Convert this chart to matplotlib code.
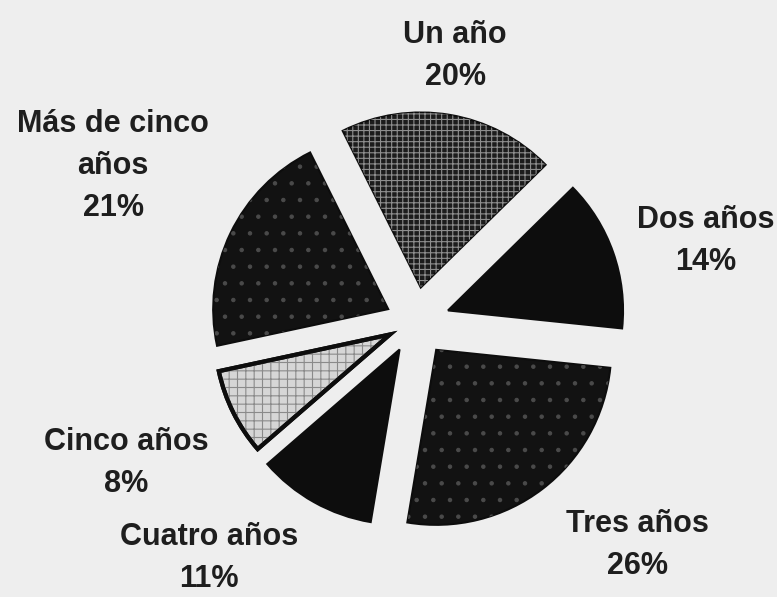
import matplotlib.pyplot as plt

plt.rcParams['font.family'] = ['Liberation Sans', 'DejaVu Sans']

# Datos del grafico
categorias = ["Un año", "Dos años", "Tres años", "Cuatro años", "Cinco años", "Más de cinco\naños"]
porcentajes = [20, 14, 26, 11, 8, 21]

# Estilo de cada porcion (relleno, trama, color de trama)
rellenos = ['#1c1c1c', '#0d0d0d', '#121212', '#0d0d0d', '#d6d6d6', '#121212']
tramas = ['+++', '', '.', '', '++', '.']
color_trama = ['#8e8e8e', '#0d0d0d', '#4a4a4a', '#0d0d0d', '#8a8a8a', '#4a4a4a']
bordes = [1.5, 1.5, 1.5, 1.5, 3.0, 1.5]
separacion = [0.2, 0.2, 0.2, 0.18, 0.16, 0.17]

# Posicion de las etiquetas (x centro, linea base de la primera linea) en pixeles
pos_etiquetas = [(455, 43), (706, 228), (637, 532), (209, 545), (126, 450), (113, 132)]

fig = plt.figure(figsize=(7.77, 5.97), dpi=100, facecolor='#eeeeee')
ax = fig.add_axes([0, 0, 1, 1])
ax.set_facecolor('#eeeeee')

centro = (415, 597 - 322)
radio = 175
desplaz = [s * radio for s in separacion]

wedges, _ = ax.pie(porcentajes, startangle=116.5, counterclock=False,
                   explode=desplaz, radius=radio, center=centro,
                   colors=rellenos,
                   wedgeprops=dict(edgecolor='#0d0d0d', linewidth=1.5))
for w, lw in zip(wedges, bordes):
    w.set_linewidth(lw)

# Capa de tramas encima
plt.rcParams['hatch.linewidth'] = 0.8
capas, _ = ax.pie(porcentajes, startangle=116.5, counterclock=False,
                  explode=desplaz, radius=radio, center=centro,
                  colors=['none'] * len(porcentajes),
                  wedgeprops=dict(linewidth=0))
for w, h, c in zip(capas, tramas, color_trama):
    w.set_hatch(h)
    w.set_edgecolor(c)
    w.set_linewidth(0)

# Borde grueso otra vez para la porcion clara
w5, _ = ax.pie(porcentajes, startangle=116.5, counterclock=False,
               explode=desplaz, radius=radio, center=centro,
               colors=['none'] * len(porcentajes),
               wedgeprops=dict(linewidth=0))
for w, lw in zip(w5, bordes):
    if lw > 2:
        w.set_edgecolor('#0d0d0d')
        w.set_linewidth(lw)

# Etiquetas
for nombre, valor, (x, y) in zip(categorias, porcentajes, pos_etiquetas):
    lineas = nombre.split("\n") + [f"{valor}%"]
    for i, linea in enumerate(lineas):
        ax.text(x, 597 - (y + i * 42), linea, ha='center', va='baseline',
                fontsize=22, fontweight='bold', color='#1e1e1e')

ax.set_xlim(0, 777)
ax.set_ylim(0, 597)
ax.set_aspect('equal')
ax.axis('off')

fig.savefig('out.png', dpi=100, facecolor=fig.get_facecolor())
